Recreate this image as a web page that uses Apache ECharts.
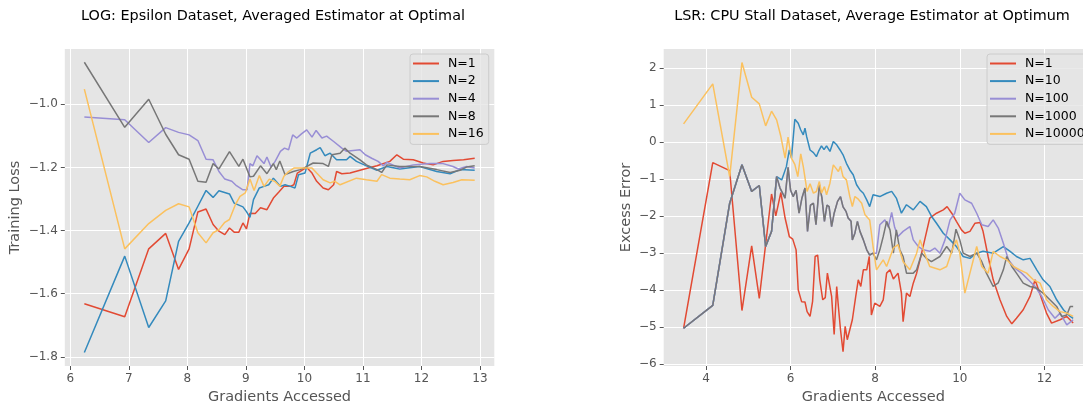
<!DOCTYPE html>
<html>
<head>
<meta charset="utf-8">
<script src="https://cdn.jsdelivr.net/npm/echarts@6/dist/echarts.min.js"></script>
<style>
  html, body { margin: 0; padding: 0; background: #fff; }
  #chart { width: 1083px; height: 410px; }
</style>
</head>
<body>
<div id="chart"></div>
<script>
// left panel: Epsilon dataset (training loss)
var epsTicksX = [6, 7, 8, 9, 10, 11, 12, 13];
var epsTicksY = [-1.8, -1.6, -1.4, -1.2, -1.0];
var epsNames = ['N=1', 'N=2', 'N=4', 'N=8', 'N=16'];

var epsN1x = [6.24, 6.93, 7.34, 7.63, 7.85, 8.03, 8.18, 8.32, 8.44, 8.54, 8.64, 8.72, 8.80, 8.88, 8.95, 9.01, 9.07, 9.16, 9.25, 9.36, 9.47, 9.56, 9.65, 9.76, 9.82, 9.88, 10.04, 10.13, 10.21, 10.32, 10.41, 10.50, 10.55, 10.64, 10.78, 10.95, 11.09, 11.24, 11.46, 11.58, 11.69, 11.86, 12.03, 12.20, 12.37, 12.54, 12.72, 12.91];
var epsN1y = [-1.632, -1.673, -1.458, -1.409, -1.523, -1.458, -1.341, -1.332, -1.381, -1.402, -1.413, -1.392, -1.405, -1.405, -1.376, -1.395, -1.345, -1.346, -1.328, -1.334, -1.297, -1.279, -1.26, -1.26, -1.255, -1.218, -1.2, -1.218, -1.244, -1.265, -1.271, -1.255, -1.213, -1.22, -1.218, -1.209, -1.202, -1.195, -1.181, -1.16, -1.174, -1.176, -1.186, -1.192, -1.181, -1.178, -1.176, -1.171];

var epsN2x = [6.24, 6.93, 7.34, 7.63, 7.85, 8.03, 8.18, 8.32, 8.44, 8.54, 8.72, 8.80, 8.95, 9.01, 9.07, 9.13, 9.23, 9.31, 9.39, 9.47, 9.59, 9.67, 9.76, 9.84, 9.90, 10.01, 10.10, 10.21, 10.27, 10.35, 10.44, 10.55, 10.72, 10.78, 10.89, 11.06, 11.24, 11.41, 11.63, 11.97, 12.26, 12.49, 12.66, 12.91];
var epsN2y = [-1.786, -1.481, -1.707, -1.623, -1.434, -1.376, -1.323, -1.273, -1.295, -1.274, -1.284, -1.313, -1.325, -1.34, -1.358, -1.302, -1.265, -1.26, -1.255, -1.234, -1.26, -1.255, -1.26, -1.265, -1.223, -1.218, -1.155, -1.144, -1.137, -1.163, -1.155, -1.176, -1.176, -1.165, -1.181, -1.195, -1.209, -1.197, -1.205, -1.197, -1.213, -1.22, -1.207, -1.209];

var epsN4x = [6.24, 6.93, 7.34, 7.63, 7.85, 8.03, 8.18, 8.32, 8.44, 8.54, 8.64, 8.76, 8.84, 8.95, 9.02, 9.07, 9.12, 9.19, 9.31, 9.36, 9.43, 9.50, 9.59, 9.66, 9.73, 9.80, 9.87, 9.95, 10.04, 10.13, 10.20, 10.30, 10.38, 10.50, 10.64, 10.72, 10.95, 11.04, 11.15, 11.26, 11.35, 11.41, 11.63, 11.86, 12.14, 12.37, 12.54, 12.63, 12.77, 12.91];
var epsN4y = [-1.04, -1.049, -1.121, -1.074, -1.089, -1.097, -1.115, -1.174, -1.176, -1.213, -1.237, -1.244, -1.258, -1.271, -1.271, -1.188, -1.195, -1.163, -1.188, -1.167, -1.199, -1.181, -1.149, -1.139, -1.144, -1.097, -1.107, -1.094, -1.081, -1.104, -1.083, -1.107, -1.101, -1.118, -1.139, -1.149, -1.144, -1.16, -1.171, -1.181, -1.195, -1.184, -1.202, -1.192, -1.188, -1.188, -1.197, -1.205, -1.197, -1.202];

var epsN8x = [6.24, 6.93, 7.34, 7.63, 7.85, 8.03, 8.18, 8.32, 8.44, 8.54, 8.72, 8.88, 8.95, 9.07, 9.13, 9.25, 9.36, 9.47, 9.52, 9.58, 9.67, 9.81, 9.93, 10.01, 10.15, 10.32, 10.41, 10.47, 10.61, 10.69, 10.78, 10.95, 11.06, 11.24, 11.32, 11.41, 11.63, 11.97, 12.26, 12.49, 12.66, 12.77, 12.91];
var epsN8y = [-0.867, -1.073, -0.984, -1.095, -1.16, -1.174, -1.244, -1.247, -1.188, -1.205, -1.15, -1.197, -1.174, -1.23, -1.228, -1.195, -1.22, -1.188, -1.207, -1.18, -1.223, -1.213, -1.207, -1.2, -1.186, -1.188, -1.197, -1.16, -1.155, -1.139, -1.155, -1.176, -1.192, -1.207, -1.216, -1.192, -1.197, -1.197, -1.207, -1.216, -1.209, -1.199, -1.195];

var epsN16x = [6.24, 6.93, 7.34, 7.63, 7.85, 8.03, 8.18, 8.32, 8.44, 8.54, 8.64, 8.72, 8.82, 8.90, 8.99, 9.07, 9.14, 9.23, 9.31, 9.40, 9.50, 9.58, 9.65, 9.73, 9.82, 9.93, 10.13, 10.21, 10.32, 10.44, 10.52, 10.61, 10.89, 11.06, 11.24, 11.32, 11.46, 11.63, 11.80, 11.97, 12.09, 12.23, 12.37, 12.54, 12.69, 12.91];
var epsN16y = [-0.952, -1.458, -1.378, -1.336, -1.315, -1.325, -1.407, -1.439, -1.407, -1.397, -1.374, -1.365, -1.318, -1.292, -1.281, -1.237, -1.273, -1.226, -1.26, -1.237, -1.245, -1.26, -1.228, -1.213, -1.202, -1.202, -1.202, -1.218, -1.239, -1.249, -1.244, -1.255, -1.234, -1.239, -1.244, -1.223, -1.234, -1.237, -1.239, -1.226, -1.23, -1.244, -1.255, -1.248, -1.239, -1.241];

// right panel: CPU stall dataset (excess error)
var cpuTicksX = [4, 6, 8, 10, 12];
var cpuTicksY = [-6, -5, -4, -3, -2, -1, 0, 1, 2];
var cpuNames = ['N=1', 'N=10', 'N=100', 'N=1000', 'N=10000'];

var cpuN1x = [3.47, 4.16, 4.56, 4.85, 5.08, 5.26, 5.55, 5.65, 5.77, 5.87, 5.97, 6.05, 6.13, 6.18, 6.26, 6.34, 6.39, 6.46, 6.52, 6.58, 6.64, 6.69, 6.76, 6.82, 6.87, 6.91, 6.97, 7.03, 7.09, 7.13, 7.18, 7.24, 7.29, 7.34, 7.40, 7.46, 7.54, 7.60, 7.66, 7.72, 7.80, 7.86, 7.91, 7.99, 8.11, 8.19, 8.27, 8.35, 8.43, 8.54, 8.62, 8.66, 8.74, 8.82, 8.90, 8.98, 9.06, 9.17, 9.29, 9.45, 9.61, 9.70, 9.81, 9.92, 10.04, 10.12, 10.24, 10.36, 10.48, 10.55, 10.67, 10.79, 10.95, 11.11, 11.23, 11.34, 11.50, 11.66, 11.78, 12.05, 12.17, 12.37, 12.53, 12.68];
var cpuN1y = [-5.03, -0.55, -0.77, -4.55, -2.8, -4.22, -1.4, -1.99, -1.36, -2.05, -2.55, -2.62, -2.91, -3.99, -4.31, -4.32, -4.58, -4.71, -4.3, -3.09, -3.05, -3.72, -4.26, -4.2, -3.54, -3.59, -4.17, -5.2, -3.9, -4.44, -5.07, -5.66, -4.98, -5.34, -5.07, -4.8, -4.17, -3.72, -3.9, -3.45, -3.45, -3.09, -4.67, -4.35, -4.44, -4.26, -3.54, -3.45, -3.7, -3.54, -4.08, -4.85, -4.08, -4.17, -3.81, -3.54, -3.18, -2.64, -2.05, -1.92, -1.83, -1.74, -1.92, -2.14, -2.37, -2.46, -2.41, -2.19, -2.17, -2.41, -3.09, -3.72, -4.26, -4.71, -4.91, -4.76, -4.53, -4.17, -3.72, -4.62, -4.89, -4.8, -4.71, -4.89];

var cpuN10x = [3.47, 4.16, 4.56, 4.85, 5.08, 5.26, 5.41, 5.55, 5.67, 5.79, 5.90, 5.97, 6.02, 6.10, 6.18, 6.24, 6.30, 6.34, 6.38, 6.46, 6.54, 6.61, 6.66, 6.73, 6.79, 6.85, 6.93, 7.01, 7.09, 7.17, 7.24, 7.32, 7.40, 7.48, 7.56, 7.64, 7.72, 7.80, 7.87, 7.95, 8.11, 8.27, 8.39, 8.50, 8.62, 8.74, 8.90, 9.06, 9.21, 9.33, 9.45, 9.61, 9.77, 9.92, 10.08, 10.24, 10.40, 10.55, 10.79, 11.03, 11.19, 11.34, 11.50, 11.66, 11.82, 11.97, 12.13, 12.29, 12.45, 12.61, 12.68];
var cpuN10y = [-5.03, -4.41, -1.65, -0.61, -1.33, -1.17, -2.82, -2.41, -0.93, -1.02, -0.66, -0.21, -0.43, 0.62, 0.51, 0.33, 0.2, 0.38, 0.15, -0.21, -0.28, -0.39, -0.25, -0.1, -0.2, -0.1, -0.25, 0.02, -0.07, -0.21, -0.34, -0.57, -0.75, -0.88, -1.15, -1.29, -1.38, -1.56, -1.74, -1.42, -1.47, -1.38, -1.33, -1.51, -1.92, -1.69, -1.83, -1.6, -1.74, -2.0, -2.19, -2.46, -2.64, -2.82, -3.09, -3.14, -3.0, -2.95, -3.0, -2.82, -2.95, -3.09, -3.18, -3.14, -3.45, -3.72, -3.9, -4.26, -4.53, -4.71, -4.76];

var cpuN100x = [3.47, 4.16, 4.56, 4.85, 5.08, 5.26, 5.41, 5.55, 5.67, 5.75, 5.87, 5.94, 6.00, 6.06, 6.13, 6.20, 6.27, 6.34, 6.40, 6.47, 6.54, 6.60, 6.68, 6.74, 6.80, 6.86, 6.91, 6.97, 7.03, 7.11, 7.18, 7.24, 7.31, 7.36, 7.43, 7.46, 7.52, 7.58, 7.64, 7.72, 7.80, 7.87, 7.95, 8.03, 8.11, 8.23, 8.31, 8.39, 8.46, 8.54, 8.66, 8.82, 8.90, 9.02, 9.14, 9.29, 9.41, 9.53, 9.65, 9.77, 9.88, 10.00, 10.12, 10.28, 10.40, 10.52, 10.67, 10.79, 10.91, 11.03, 11.15, 11.31, 11.46, 11.62, 11.78, 11.94, 12.09, 12.25, 12.37, 12.53, 12.68];
var cpuN100y = [-5.03, -4.41, -1.65, -0.61, -1.33, -1.17, -2.82, -2.41, -0.93, -1.24, -1.51, -0.68, -1.3, -1.47, -1.3, -1.92, -1.5, -1.24, -2.41, -1.7, -1.65, -2.23, -1.15, -1.5, -2.14, -1.7, -1.74, -2.28, -1.92, -1.6, -1.47, -1.75, -1.87, -2.05, -2.14, -2.64, -2.46, -2.14, -2.41, -2.64, -2.91, -3.05, -3.0, -3.0, -2.23, -2.1, -2.3, -1.9, -2.3, -2.55, -2.41, -2.28, -2.64, -2.82, -2.91, -2.95, -2.86, -3.0, -2.64, -2.1, -1.92, -1.38, -1.56, -1.65, -1.92, -2.23, -2.28, -2.1, -2.32, -2.73, -3.18, -3.41, -3.54, -3.72, -3.9, -4.17, -4.53, -4.76, -4.62, -4.94, -4.8];

var cpuN1000x = [3.47, 4.16, 4.56, 4.85, 5.08, 5.26, 5.41, 5.55, 5.67, 5.75, 5.87, 5.94, 6.00, 6.06, 6.13, 6.20, 6.27, 6.34, 6.40, 6.47, 6.54, 6.60, 6.68, 6.74, 6.80, 6.86, 6.91, 6.97, 7.03, 7.11, 7.18, 7.24, 7.31, 7.36, 7.43, 7.46, 7.52, 7.58, 7.64, 7.72, 7.80, 7.87, 7.95, 8.03, 8.11, 8.19, 8.27, 8.35, 8.43, 8.50, 8.58, 8.66, 8.74, 8.90, 8.98, 9.10, 9.21, 9.33, 9.53, 9.69, 9.81, 9.91, 10.00, 10.08, 10.24, 10.40, 10.52, 10.63, 10.79, 10.91, 11.03, 11.11, 11.23, 11.34, 11.50, 11.66, 11.82, 11.97, 12.13, 12.29, 12.41, 12.53, 12.61, 12.68];
var cpuN1000y = [-5.03, -4.41, -1.65, -0.61, -1.33, -1.17, -2.82, -2.41, -0.93, -1.24, -1.51, -0.68, -1.3, -1.47, -1.3, -1.92, -1.5, -1.24, -2.41, -1.7, -1.65, -2.23, -1.15, -1.5, -2.14, -1.7, -1.74, -2.28, -1.92, -1.6, -1.47, -1.75, -1.87, -2.05, -2.14, -2.64, -2.46, -2.14, -2.41, -2.64, -2.91, -3.05, -3.0, -3.18, -2.91, -2.55, -2.14, -2.37, -3.0, -2.37, -2.9, -3.09, -3.54, -3.54, -3.45, -3.0, -3.14, -3.23, -3.09, -2.82, -3.0, -2.35, -2.64, -3.0, -3.09, -3.0, -3.23, -3.54, -3.9, -3.8, -3.45, -3.09, -3.36, -3.54, -3.81, -3.9, -3.95, -4.08, -4.26, -4.44, -4.71, -4.67, -4.44, -4.44];

var cpuN10000x = [3.47, 4.16, 4.56, 4.85, 5.08, 5.26, 5.41, 5.55, 5.67, 5.77, 5.87, 5.94, 6.02, 6.10, 6.17, 6.24, 6.30, 6.39, 6.46, 6.54, 6.61, 6.68, 6.73, 6.80, 6.85, 6.93, 7.01, 7.07, 7.13, 7.18, 7.24, 7.32, 7.40, 7.46, 7.52, 7.60, 7.68, 7.76, 7.87, 7.95, 8.03, 8.19, 8.27, 8.43, 8.54, 8.66, 8.82, 8.98, 9.06, 9.17, 9.29, 9.53, 9.69, 9.85, 9.92, 10.00, 10.12, 10.24, 10.40, 10.52, 10.67, 10.79, 10.95, 11.11, 11.27, 11.42, 11.58, 11.74, 11.90, 12.05, 12.21, 12.37, 12.53, 12.68];
var cpuN10000y = [0.495, 1.577, -0.928, 2.153, 1.216, 1.036, 0.441, 0.838, 0.604, 0.153, -0.43, 0.135, -0.43, -0.6, -0.93, -0.315, -0.66, -1.33, -1.126, -1.378, -1.333, -1.063, -1.378, -1.2, -1.42, -1.108, -0.613, -0.7, -0.79, -0.65, -0.93, -1.018, -1.468, -1.739, -1.468, -1.54, -1.649, -1.964, -2.1, -2.82, -3.45, -3.18, -3.36, -2.86, -2.77, -3.23, -3.45, -3.0, -2.64, -3.0, -3.36, -3.45, -3.36, -2.82, -2.64, -3.0, -4.08, -3.54, -2.82, -3.36, -3.54, -2.95, -3.09, -3.18, -3.36, -3.45, -3.54, -3.72, -3.81, -4.26, -4.44, -4.58, -4.62, -4.71];

var colors = ['#E24A33', '#348ABD', '#988ED5', '#777777', '#FBC15E'];

function pairs(xs, ys) {
  var out = [];
  for (var i = 0; i < xs.length; i++) out.push([xs[i], ys[i]]);
  return out;
}
function minus(v) {
  return String(v).replace('-', '\u2212');
}

var font = 'DejaVu Sans';
var tickLabel = { color: '#555555', fontSize: 12, fontFamily: font, margin: 7 };
var nameStyle = { color: '#555555', fontSize: 14.5, fontFamily: font };

function xAxisFor(grid, min, max, ticks) {
  return {
    type: 'value', gridIndex: grid, min: min, max: max,
    name: 'Gradients Accessed', nameLocation: 'middle', nameGap: 24, nameTextStyle: nameStyle,
    axisLine: { show: false, onZero: false },
    axisTick: { show: true, length: 4, lineStyle: { color: '#555555' }, customValues: ticks },
    axisLabel: Object.assign({ customValues: ticks, formatter: function (v) { return minus(v); } }, tickLabel),
    splitLine: { show: true, lineStyle: { color: '#ffffff', width: 1 } }
  };
}
function yAxisFor(grid, min, max, ticks, name, digits, gap) {
  return {
    type: 'value', gridIndex: grid, min: min, max: max,
    name: name, nameLocation: 'middle', nameGap: gap, nameRotate: 90, nameTextStyle: nameStyle,
    axisLine: { show: false, onZero: false },
    axisTick: { show: true, length: 4, lineStyle: { color: '#555555' }, customValues: ticks },
    axisLabel: Object.assign({ customValues: ticks, formatter: function (v) { return minus(v.toFixed(digits)); } }, tickLabel),
    splitLine: { show: true, lineStyle: { color: '#ffffff', width: 1 } }
  };
}
function legendFor(left, names) {
  return {
    orient: 'vertical', left: left, top: 54, data: names,
    icon: 'rect', itemWidth: 26, itemHeight: 2, itemGap: 4.6,
    padding: [3, 5, 4, 3],
    backgroundColor: 'rgba(229,229,229,0.8)', borderColor: '#cccccc', borderWidth: 1, borderRadius: 3,
    textStyle: { color: '#000000', fontSize: 12.5, fontFamily: font, lineHeight: 13, padding: [0, 0, 0, 4] },
    selectedMode: false
  };
}
function lineSeries(name, xi, data, color) {
  return {
    name: name, type: 'line', xAxisIndex: xi, yAxisIndex: xi, data: data,
    symbol: 'none', color: color, lineStyle: { width: 1.5, color: color }, animation: false
  };
}

var epsData = [pairs(epsN1x, epsN1y), pairs(epsN2x, epsN2y), pairs(epsN4x, epsN4y), pairs(epsN8x, epsN8y), pairs(epsN16x, epsN16y)];
var cpuData = [pairs(cpuN1x, cpuN1y), pairs(cpuN10x, cpuN10y), pairs(cpuN100x, cpuN100y), pairs(cpuN1000x, cpuN1000y), pairs(cpuN10000x, cpuN10000y)];

var series = [];
epsNames.forEach(function (n, i) { series.push(lineSeries(n, 0, epsData[i], colors[i])); });
cpuNames.forEach(function (n, i) { series.push(lineSeries(n, 1, cpuData[i], colors[i])); });

var titleStyle = { color: '#000000', fontSize: 14.4, fontWeight: 'normal', fontFamily: font };

var chart = echarts.init(document.getElementById('chart'), null, { renderer: 'canvas' });
chart.setOption({
  animation: false,
  title: [
    { text: 'LOG: Epsilon Dataset, Averaged Estimator at Optimal', left: 268, top: 4, textAlign: 'center', textStyle: titleStyle },
    { text: 'LSR: CPU Stall Dataset, Average Estimator at Optimum', left: 867, top: 4, textAlign: 'center', textStyle: titleStyle }
  ],
  legend: [legendFor(410, epsNames), legendFor(987, cpuNames)],
  grid: [
    { left: 64.8, top: 49, width: 429.5, height: 318, show: true, backgroundColor: '#E5E5E5', borderWidth: 0 },
    { left: 663.7, top: 49, width: 419.3, height: 318, show: true, backgroundColor: '#E5E5E5', borderWidth: 0 }
  ],
  xAxis: [xAxisFor(0, 5.906, 13.245, epsTicksX), xAxisFor(1, 3.0, 12.913, cpuTicksX)],
  yAxis: [
    yAxisFor(0, -1.829, -0.825, epsTicksY, 'Training Loss', 1, 42),
    yAxisFor(1, -6.05, 2.52, cpuTicksY, 'Excess Error', 0, 30)
  ],
  series: series
});
</script>
</body>
</html>
